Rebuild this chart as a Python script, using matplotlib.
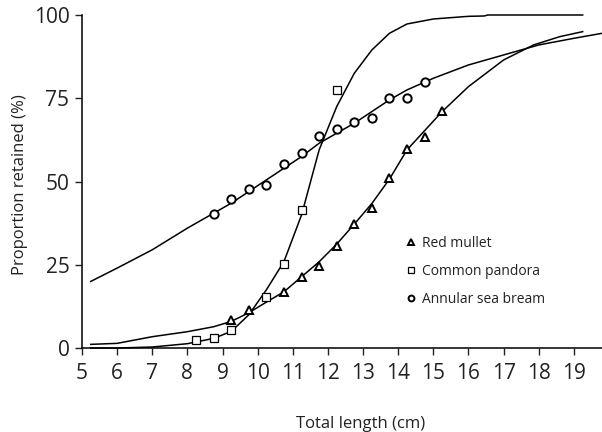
import matplotlib
matplotlib.use("Agg")
import matplotlib.pyplot as plt

plt.rcParams['font.family'] = ['Open Sans', 'DejaVu Sans']

# Observed points
mullet_x = [9.25, 9.75, 10.75, 11.25, 11.75, 12.25, 12.75, 13.25, 13.75, 14.25, 14.75, 15.25]
mullet_y = [8.4, 11.4, 16.8, 21.3, 24.6, 30.6, 37.2, 42.0, 51.0, 59.8, 63.4, 71.2]

pandora_x = [8.25, 8.75, 9.25, 10.25, 10.75, 11.25, 12.25]
pandora_y = [2.4, 3.0, 5.4, 15.3, 25.2, 41.4, 77.5]

bream_x = [8.75, 9.25, 9.75, 10.25, 10.75, 11.25, 11.75, 12.25, 12.75, 13.25, 13.75, 14.25, 14.75]
bream_y = [40.2, 44.7, 47.7, 49.0, 55.2, 58.5, 63.7, 65.8, 67.8, 69.0, 75.0, 75.0, 80.0]

# Fitted curves
mullet_cx = [5.25, 6.0, 7.0, 8.0, 8.75, 9.25, 9.75, 10.25, 10.75, 11.25, 11.75, 12.25, 12.75,
             13.25, 13.75, 14.25, 15.25, 16.0, 17.0, 17.85, 18.6, 19.25]
mullet_cy = [1.1, 1.4, 3.4, 4.9, 6.4, 8.0, 10.6, 13.8, 16.9, 21.4, 25.9, 31.2, 37.2,
             43.4, 50.7, 59.5, 71.0, 78.5, 86.5, 91.0, 93.5, 95.0]

pandora_cx = [5.25, 6.0, 7.0, 8.0, 8.75, 9.25, 9.75, 10.25, 10.75, 11.25, 11.75, 12.25, 12.75,
              13.25, 13.75, 14.25, 15.0, 16.0, 16.45, 16.55, 19.25]
pandora_cy = [0.0, 0.0, 0.3, 1.3, 2.9, 5.0, 10.0, 17.5, 26.0, 40.0, 59.5, 72.5, 82.5,
              89.5, 94.5, 97.3, 98.8, 99.6, 99.7, 100.0, 100.0]

bream_cx = [5.25, 6.0, 7.0, 8.0, 8.75, 9.25, 9.75, 10.25, 10.75, 11.25, 11.75, 12.25, 12.75,
            13.25, 13.75, 14.25, 15.0, 16.0, 17.0, 18.0, 19.0, 19.8]
bream_cy = [20.0, 24.0, 29.5, 36.0, 40.5, 43.5, 47.0, 50.5, 54.0, 57.5, 61.5, 64.5, 67.5,
            71.0, 74.5, 77.5, 81.0, 85.0, 88.0, 91.0, 93.0, 94.5]

xticks = list(range(5, 20))
yticks = [0, 25, 50, 75, 100]

fig = plt.figure(figsize=(6.02, 4.32), dpi=100)
ax = fig.add_axes([0.1362, 0.1944, 0.8638, 0.7709])

lw = 1.1
ax.plot(mullet_cx, mullet_cy, color='black', lw=lw, clip_on=False)
ax.plot(pandora_cx, pandora_cy, color='black', lw=lw, clip_on=False)
ax.plot(bream_cx, bream_cy, color='black', lw=lw, clip_on=False)

ax.plot(mullet_x, mullet_y, linestyle='none', marker='^', ms=5.5, mfc='white', mec='black', mew=1.4,
        label='Red mullet', clip_on=False)
ax.plot(pandora_x, pandora_y, linestyle='none', marker='s', ms=6, mfc='white', mec='black', mew=0.9,
        label='Common pandora', clip_on=False)
ax.plot(bream_x, bream_y, linestyle='none', marker='o', ms=6, mfc='white', mec='black', mew=1.4,
        label='Annular sea bream', clip_on=False)

ax.set_xlim(5, 19.8)
ax.set_ylim(0, 100)
ax.set_xticks(xticks)
ax.set_yticks(yticks)
ax.tick_params(axis='both', direction='out', length=5, width=1, labelsize=15, colors='#222222', pad=4)
ax.tick_params(axis='x', pad=6)
for s in ['top', 'right']:
    ax.spines[s].set_visible(False)
for s in ['left', 'bottom']:
    ax.spines[s].set_linewidth(1.1)

ax.set_xlabel('Total length (cm)', fontsize=12, color='#222222')
ax.xaxis.set_label_coords(0.535, -0.205)
ax.set_ylabel('Proportion retained (%)', fontsize=12, color='#222222', va='center')
ax.yaxis.set_label_coords(-0.12, 0.49)

leg = ax.legend(loc='upper left', bbox_to_anchor=(0.6, 0.375), frameon=False, fontsize=10,
                handlelength=0.6, handletextpad=0.5, labelspacing=0.95, markerscale=0.7)
for t in leg.get_texts():
    t.set_color('#222222')

fig.savefig('out.png', dpi=100)
